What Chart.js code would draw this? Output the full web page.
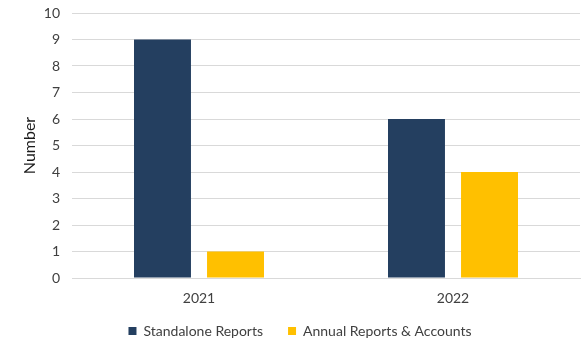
<!DOCTYPE html>
<html>
<head>
<meta charset="utf-8">
<script src="https://cdn.jsdelivr.net/npm/chart.js@4"></script>
<style>
  html, body { margin: 0; padding: 0; background: #fff; }
  #wrap { width: 585px; height: 349px; }
</style>
</head>
<body>
<div id="wrap"><canvas id="reports-chart" width="585" height="349"></canvas></div>
<script>
const years = ['2021', '2022'];
const standaloneReports = [9, 6];
const annualReports = [1, 4];
const yTicks = [0, 1, 2, 3, 4, 5, 6, 7, 8, 9, 10];

const FONT = 'Lato, "Open Sans", sans-serif';
const TEXT = '#404040';

// legend keeps wide gaps between items but sits in a short strip under the axis
const compactLegend = {
    id: 'compactLegend',
    afterInit(chart) {
        const legend = chart.legend;
        const fit = legend.fit.bind(legend);
        legend.fit = function () {
            fit();
            this.height = 35;
        };
        const draw = legend._draw.bind(legend);
        legend._draw = function () {
            this.ctx.save();
            this.ctx.translate(0, -15);
            draw();
            this.ctx.restore();
        };
    }
};

const ctx = document.getElementById('reports-chart').getContext('2d');
const chart = new Chart(ctx, {
    type: 'bar',
    data: {
        labels: years,
        datasets: [{
            label: 'Standalone Reports',
            data: standaloneReports,
            backgroundColor: '#243F60',
            categoryPercentage: 0.575,
            barPercentage: 0.78
        }, {
            label: 'Annual Reports & Accounts',
            data: annualReports,
            backgroundColor: '#FFC000',
            categoryPercentage: 0.575,
            barPercentage: 0.78
        }]
    },
    plugins: [compactLegend],
    options: {
        responsive: false,
        animation: false,
        layout: { padding: { top: 13, right: 5, left: 20, bottom: 0 } },
        plugins: {
            tooltip: { enabled: false },
            legend: {
                position: 'bottom',
                labels: {
                    boxWidth: 8,
                    boxHeight: 8,
                    padding: 25,
                    color: TEXT,
                    font: { family: FONT, size: 14 }
                }
            }
        },
        scales: {
            x: {
                grid: { display: false, drawTicks: false },
                border: { color: '#D9D9D9' },
                ticks: { color: TEXT, padding: 12, font: { family: FONT, size: 14 } },
                afterFit: (scale) => { scale.height = 36; }
            },
            y: {
                min: 0,
                max: 10,
                afterBuildTicks: (scale) => { scale.ticks = yTicks.map(v => ({ value: v })); },
                grid: { color: '#D9D9D9', drawTicks: false },
                border: { display: false },
                ticks: { color: TEXT, padding: 12, font: { family: FONT, size: 14 } },
                title: {
                    display: true,
                    text: 'Number',
                    color: '#1a1a1a',
                    padding: { top: 0, bottom: 0 },
                    font: { family: FONT, size: 16 }
                },
                afterFit: (scale) => {
                    scale.width = 52;
                    scale.paddingTop = 0;
                    scale.paddingBottom = 0;
                }
            }
        }
    }
});
</script>
</body>
</html>
